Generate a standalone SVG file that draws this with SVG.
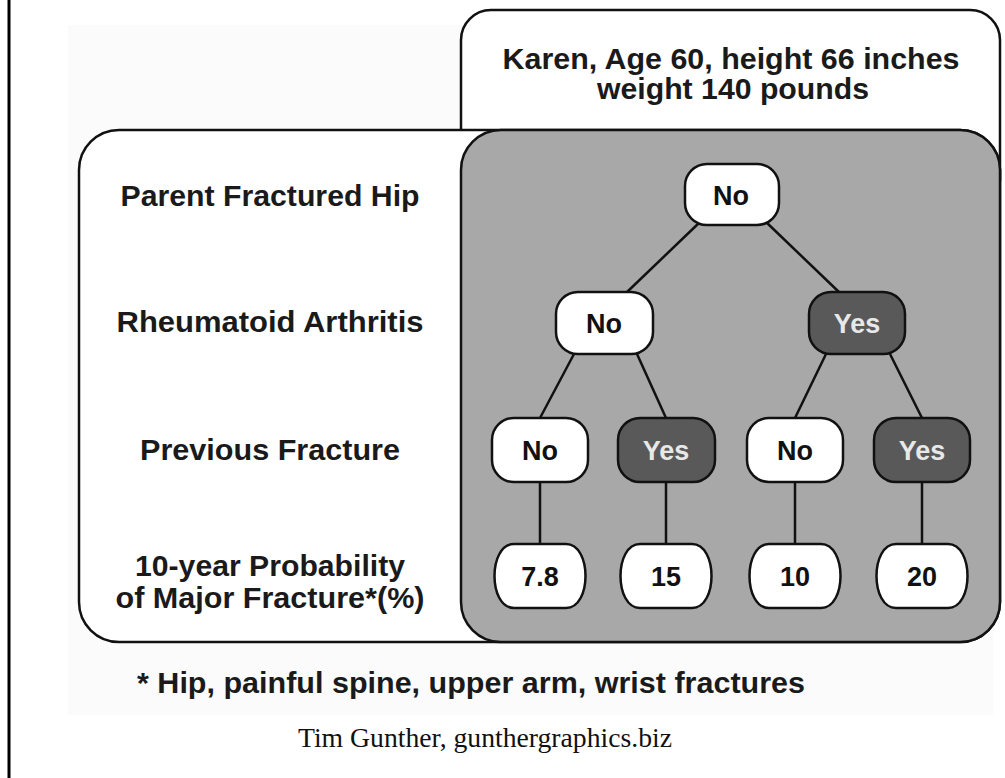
<svg xmlns="http://www.w3.org/2000/svg" width="1005" height="778" viewBox="0 0 1005 778">
<style>
.lbl{font-family:"Liberation Sans",Arial,sans-serif;font-weight:bold;font-size:29px;fill:#1a1a1a;text-anchor:middle}
.nt{font-family:"Liberation Sans",Arial,sans-serif;font-weight:bold;font-size:27px;text-anchor:middle}
.wn{fill:#ffffff;stroke:#111;stroke-width:2.5}
.dn{fill:#595959;stroke:#111;stroke-width:2.5}
.box{stroke:#111;stroke-width:2.5}
.ln{stroke:#111;stroke-width:2.5;fill:none}
</style>
<rect x="0" y="0" width="1005" height="778" fill="#ffffff"/>
<rect x="68" y="25" width="925" height="690" fill="#fbfbfb"/>
<line x1="9" y1="0" x2="9" y2="778" stroke="#000" stroke-width="3"/>
<g id="header">
<rect class="box" x="461" y="10" width="539" height="200" rx="30" fill="#ffffff"/>
<text class="lbl" x="731" y="69" textLength="457" lengthAdjust="spacingAndGlyphs">Karen, Age 60, height 66 inches</text>
<text class="lbl" x="733" y="99" textLength="272" lengthAdjust="spacingAndGlyphs">weight 140 pounds</text>
</g>
<g id="panel">
<rect class="box" x="79" y="130" width="921" height="512" rx="40" fill="#ffffff"/>
<rect class="box" x="461" y="130" width="539" height="512" rx="40" fill="#a8a8a8"/>
</g>
<g id="labels">
<text class="lbl" x="270" y="206" textLength="299" lengthAdjust="spacingAndGlyphs">Parent Fractured Hip</text>
<text class="lbl" x="270" y="332" textLength="307" lengthAdjust="spacingAndGlyphs">Rheumatoid Arthritis</text>
<text class="lbl" x="270" y="460" textLength="260" lengthAdjust="spacingAndGlyphs">Previous Fracture</text>
<text class="lbl" x="270" y="576" textLength="270" lengthAdjust="spacingAndGlyphs">10-year Probability</text>
<text class="lbl" x="270" y="608" textLength="309" lengthAdjust="spacingAndGlyphs">of Major Fracture*(%)</text>
</g>
<g id="connectors">
<line class="ln" x1="700" y1="222" x2="626" y2="293"/>
<line class="ln" x1="766" y1="222" x2="840" y2="293"/>
<line class="ln" x1="574" y1="354" x2="540" y2="418"/>
<line class="ln" x1="637" y1="354" x2="666" y2="418"/>
<line class="ln" x1="826" y1="354" x2="795" y2="418"/>
<line class="ln" x1="890" y1="354" x2="922" y2="418"/>
<line class="ln" x1="540" y1="482" x2="540" y2="544"/>
<line class="ln" x1="666" y1="482" x2="666" y2="544"/>
<line class="ln" x1="795" y1="482" x2="795" y2="544"/>
<line class="ln" x1="922" y1="482" x2="922" y2="544"/>
</g>
<g id="n-root"><rect class="wn" x="685" y="164" width="94" height="61" rx="22"/><text class="nt" x="731" y="205" fill="#111">No</text></g>
<g id="n-ra-no"><rect class="wn" x="556" y="292" width="97" height="62" rx="22"/><text class="nt" x="604" y="333" fill="#111">No</text></g>
<g id="n-ra-yes"><rect class="dn" x="809" y="292" width="96" height="62" rx="22"/><text class="nt" x="857" y="333" fill="#e8e8e8">Yes</text></g>
<g id="n-pf1"><rect class="wn" x="492" y="418" width="96" height="64" rx="22"/><text class="nt" x="540" y="460" fill="#111">No</text></g>
<g id="n-pf2"><rect class="dn" x="618" y="418" width="97" height="64" rx="22"/><text class="nt" x="666" y="460" fill="#e8e8e8">Yes</text></g>
<g id="n-pf3"><rect class="wn" x="747" y="418" width="96" height="64" rx="22"/><text class="nt" x="795" y="460" fill="#111">No</text></g>
<g id="n-pf4"><rect class="dn" x="874" y="418" width="96" height="64" rx="22"/><text class="nt" x="922" y="460" fill="#e8e8e8">Yes</text></g>
<g id="leaf1"><path class="wn" d="M514,544 H566 C592,544 592,608 566,608 H514 C488,608 488,544 514,544 Z"/><text class="nt" x="540" y="586" fill="#111">7.8</text></g>
<g id="leaf2"><path class="wn" d="M640,544 H692 C718,544 718,608 692,608 H640 C614,608 614,544 640,544 Z"/><text class="nt" x="666" y="586" fill="#111">15</text></g>
<g id="leaf3"><path class="wn" d="M769,544 H821 C847,544 847,608 821,608 H769 C743,608 743,544 769,544 Z"/><text class="nt" x="795" y="586" fill="#111">10</text></g>
<g id="leaf4"><path class="wn" d="M896,544 H948 C974,544 974,608 948,608 H896 C870,608 870,544 896,544 Z"/><text class="nt" x="922" y="586" fill="#111">20</text></g>
<g id="footnote">
<text class="lbl" x="471" y="693" font-size="30" textLength="668" lengthAdjust="spacingAndGlyphs">* Hip, painful spine, upper arm, wrist fractures</text>
<text x="485" y="747" font-family="Liberation Serif,'Times New Roman',serif" font-size="27" fill="#111" text-anchor="middle" textLength="374" lengthAdjust="spacingAndGlyphs">Tim Gunther, gunthergraphics.biz</text>
</g>
</svg>
